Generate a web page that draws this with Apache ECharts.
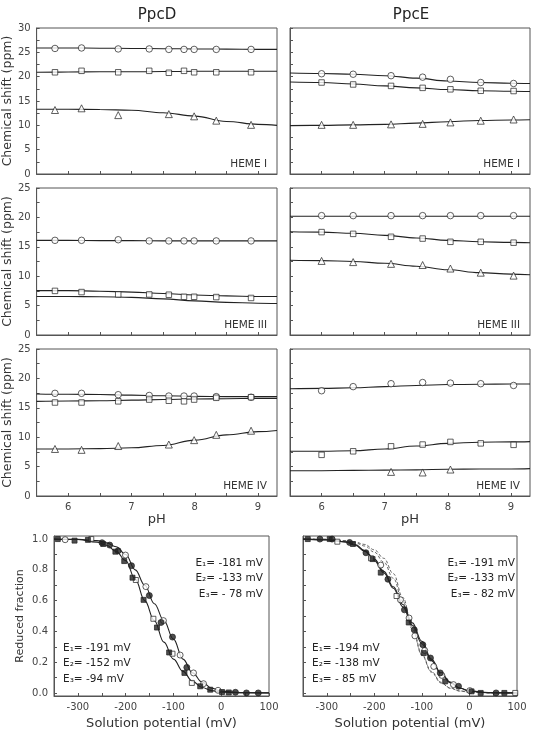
<!DOCTYPE html>
<html>
<head>
<meta charset="utf-8">
<script src="https://cdn.jsdelivr.net/npm/echarts@6/dist/echarts.min.js"></script>
<style>
  html, body { margin: 0; padding: 0; background: #fff; }
  #chart { width: 534px; height: 732px; }
</style>
</head>
<body>
<div id="chart"></div>
<script>
// pH values of the titration points
const phD = [5.79, 6.21, 6.79, 7.28, 7.59, 7.83, 7.99, 8.34, 8.89];
const phE = [6.0, 6.5, 7.1, 7.6, 8.04, 8.52, 9.04];
const fitPH = [5.5, 6.0, 6.5, 7.0, 7.5, 8.0, 8.5, 9.0, 9.3];

// PpcD
const dH1Circ = [25.8, 25.9, 25.7, 25.7, 25.6, 25.6, 25.6, 25.6, 25.6];
const dH1Sq = [20.9, 21.2, 20.9, 21.2, 20.8, 21.2, 20.9, 20.9, 20.9];
const dH1Tri = [13.15, 13.5, 12.1, null, 12.3, null, 11.85, 10.96, 10.1];
const dH1Fits = [
  [25.9, 25.9, 25.85, 25.8, 25.75, 25.7, 25.65, 25.6, 25.6],
  [20.9, 20.95, 21.0, 21.0, 21.05, 21.1, 21.1, 21.1, 21.1],
  [13.3, 13.3, 13.25, 13.1, 12.6, 11.9, 10.8, 10.2, 10.0]
];
const dH3Circ = [16.1, 16.1, 16.2, 16.0, 16.0, 16.0, 16.0, 16.0, 16.0];
const dH3Sq = [7.5, 7.3, 6.9, 6.9, 6.85, 6.5, 6.5, 6.45, 6.3];
const dH3Tri = [];
const dH3Fits = [
  [16.1, 16.1, 16.05, 16.05, 16.0, 16.0, 16.0, 16.0, 16.0],
  [7.55, 7.55, 7.45, 7.3, 7.05, 6.8, 6.65, 6.55, 6.55],
  [6.55, 6.55, 6.5, 6.4, 6.15, 5.8, 5.55, 5.4, 5.35]
];
const dH4Circ = [17.46, 17.46, 17.23, 17.1, 17.0, 17.0, 17.0, 16.9, 16.8];
const dH4Sq = [15.9, 15.9, 16.1, 16.4, 16.2, 16.1, 16.4, 16.7, 16.8];
const dH4Tri = [8.0, 7.85, 8.5, null, 8.75, null, 9.5, 10.4, 11.1];
const dH4Fits = [
  [17.35, 17.3, 17.25, 17.15, 17.05, 16.95, 16.9, 16.9, 16.9],
  [16.1, 16.15, 16.2, 16.3, 16.4, 16.5, 16.55, 16.6, 16.6],
  [8.0, 8.0, 8.05, 8.2, 8.6, 9.5, 10.4, 10.95, 11.15]
];

// PpcE
const eH1Circ = [20.6, 20.5, 20.2, 19.9, 19.45, 18.8, 18.6];
const eH1Sq = [18.8, 18.4, 18.1, 17.7, 17.4, 17.1, 17.05];
const eH1Tri = [10.1, 10.1, 10.2, 10.3, 10.6, 10.95, 11.2];
const eH1Fits = [
  [20.75, 20.65, 20.5, 20.2, 19.7, 19.1, 18.8, 18.65, 18.6],
  [18.9, 18.8, 18.5, 18.1, 17.7, 17.35, 17.1, 17.0, 16.95],
  [9.95, 10.0, 10.1, 10.2, 10.45, 10.75, 11.0, 11.1, 11.15]
];
const eH3Circ = [20.3, 20.3, 20.3, 20.3, 20.3, 20.3, 20.3];
const eH3Sq = [17.5, 17.2, 16.7, 16.4, 15.85, 15.85, 15.7];
const eH3Tri = [12.6, 12.4, 12.1, 11.9, 11.3, 10.6, 10.1];
const eH3Fits = [
  [20.2, 20.2, 20.2, 20.2, 20.2, 20.2, 20.2, 20.2, 20.2],
  [17.55, 17.5, 17.3, 16.95, 16.5, 16.1, 15.85, 15.75, 15.7],
  [12.7, 12.65, 12.5, 12.2, 11.7, 11.1, 10.6, 10.35, 10.25]
];
const eH4Circ = [17.9, 18.6, 19.1, 19.3, 19.2, 19.1, 18.8];
const eH4Sq = [7.0, 7.6, 8.45, 8.75, 9.2, 8.95, 8.7];
const eH4Tri = [null, null, 4.1, 4.0, 4.5, null, null];
const eH4Fits = [
  [18.25, 18.3, 18.4, 18.6, 18.8, 18.95, 19.0, 19.05, 19.05],
  [7.6, 7.6, 7.7, 8.0, 8.5, 8.95, 9.15, 9.2, 9.25],
  [4.3, 4.3, 4.35, 4.4, 4.45, 4.55, 4.6, 4.6, 4.65]
];

// tick labels
const phLabels = [6, 7, 8, 9];
const phTicks = [6, 6.5, 7, 7.5, 8, 8.5, 9];
const mvLabels = [-300, -200, -100, 0, 100];
const mvTicks = [-300, -250, -200, -150, -100, -50, 0, 50, 100];
const fracLabels = [0, 0.2, 0.4, 0.6, 0.8, 1.0];
const fracTicks = [0, 0.1, 0.2, 0.3, 0.4, 0.5, 0.6, 0.7, 0.8, 0.9, 1.0];

// redox titrations [mV, reduced fraction]
const dFilledCirc = [[-249.5, 0.976], [-233.5, 0.961], [-215.8, 0.924], [-187.8, 0.827], [-150.5, 0.633], [-126, 0.458], [-102, 0.363], [-72, 0.166], [29.7, 0.004], [52.8, 0.0], [77.5, 0.0]];
const dOpenCirc = [[-326.7, 0.996], [-200.4, 0.896], [-157.7, 0.691], [-121, 0.47], [-86, 0.246], [-58, 0.13], [-37, 0.06], [-6.7, 0.017]];
const dFilledSq = [[-342, 1.0], [-307, 0.99], [-279, 0.995], [-247, 0.968], [-221.5, 0.918], [-203, 0.857], [-185.7, 0.749], [-162.5, 0.605], [-134.5, 0.425], [-109, 0.263], [-77, 0.13], [-44, 0.043], [-23, 0.021], [1.7, 0.006], [15.8, 0.003]];
const dOpenSq = [[-272, 1.0], [-178.7, 0.734], [-142, 0.482], [-102, 0.255], [-61.5, 0.065], [101, 0.0]];

const eFilledCirc = [[-314.5, 1.0], [-288.8, 1.0], [-252, 0.978], [-217.6, 0.911], [-171.4, 0.739], [-136.7, 0.54], [-116, 0.41], [-98, 0.313], [-82, 0.227], [-61.4, 0.13], [-23, 0.043], [56, 0.0]];
const eOpenCirc = [[-186.5, 0.831], [-145, 0.605], [-127, 0.487], [-114.7, 0.371], [-94, 0.276], [-75, 0.172], [-58, 0.114], [-33.6, 0.054], [0.8, 0.015]];
const eFilledSq = [[-340, 1.0], [-293.8, 1.0], [-245, 0.968], [-203.7, 0.87], [-186.5, 0.782], [-127.7, 0.458], [-96, 0.259], [-51, 0.075], [4.4, 0.01], [23.6, 0.0], [73.4, 0.0]];
const eOpenSq = [[-277.8, 0.983], [-207, 0.875], [-153.3, 0.63], [96.3, 0.0]];

// fitted curves
const redoxX = [-350, -300, -260, -240, -220, -200, -180, -160, -140, -120, -100, -80, -60, -40, -20, 0, 40, 100];
const dFitA = [1.0, 0.997, 0.98, 0.96, 0.92, 0.86, 0.74, 0.6, 0.47, 0.33, 0.22, 0.14, 0.075, 0.035, 0.015, 0.005, 0.001, 0];
const dFitB = [1.0, 0.998, 0.99, 0.975, 0.95, 0.9, 0.8, 0.7, 0.58, 0.47, 0.35, 0.22, 0.13, 0.07, 0.03, 0.012, 0.002, 0];
const eFitA = [1.0, 0.995, 0.98, 0.96, 0.92, 0.86, 0.78, 0.68, 0.56, 0.44, 0.32, 0.21, 0.125, 0.065, 0.03, 0.012, 0.002, 0];
const eFitB = [1.0, 0.996, 0.983, 0.965, 0.925, 0.87, 0.79, 0.69, 0.575, 0.455, 0.335, 0.22, 0.13, 0.07, 0.032, 0.013, 0.002, 0];
const eDashA = [1.0, 0.999, 0.99, 0.98, 0.965, 0.93, 0.875, 0.775, 0.62, 0.43, 0.25, 0.14, 0.07, 0.032, 0.013, 0.005, 0.001, 0];
const eDashB = [1.0, 0.998, 0.988, 0.975, 0.955, 0.915, 0.85, 0.745, 0.595, 0.415, 0.245, 0.135, 0.065, 0.03, 0.012, 0.005, 0.001, 0];

const FONT = 'DejaVu Sans';
const INK = '#222';
const AXIS = '#555';
const LABEL = '#444';

const zip = (xs, ys) => xs.map((x, i) => [x, ys[i]]).filter(p => p[1] != null);

const cols = [{ left: 36, width: 241 }, { left: 290, width: 240 }];
const rows = [
  { top: 28, height: 146, max: 30 },
  { top: 188, height: 147, max: 25 },
  { top: 349, height: 147, max: 25 }
];
const panels = [
  { x: phD, circ: dH1Circ, sq: dH1Sq, tri: dH1Tri, fits: dH1Fits, label: 'HEME I' },
  { x: phE, circ: eH1Circ, sq: eH1Sq, tri: eH1Tri, fits: eH1Fits, label: 'HEME I' },
  { x: phD, circ: dH3Circ, sq: dH3Sq, tri: dH3Tri, fits: dH3Fits, label: 'HEME III' },
  { x: phE, circ: eH3Circ, sq: eH3Sq, tri: eH3Tri, fits: eH3Fits, label: 'HEME III' },
  { x: phD, circ: dH4Circ, sq: dH4Sq, tri: dH4Tri, fits: dH4Fits, label: 'HEME IV' },
  { x: phE, circ: eH4Circ, sq: eH4Sq, tri: eH4Tri, fits: eH4Fits, label: 'HEME IV' }
];

const grid = [], xAxis = [], yAxis = [], series = [], graphic = [];

const lineStyle = { show: true, onZero: false, lineStyle: { color: AXIS } };
const tickStyle = { inside: true, length: 3, lineStyle: { color: AXIS } };
const labelStyle = { color: LABEL, fontFamily: FONT, fontSize: 10 };

panels.forEach((p, i) => {
  const col = cols[i % 2], row = rows[Math.floor(i / 2)];
  const isLeft = i % 2 === 0, isBottom = i >= 4;
  grid.push({ left: col.left, width: col.width, top: row.top, height: row.height, show: true, borderColor: AXIS, borderWidth: 1 });
  const yTicks = [];
  for (let v = 0; v <= row.max; v += 2.5) yTicks.push(v);
  xAxis.push({
    type: 'value', gridIndex: i, min: 5.5, max: 9.3,
    axisLine: lineStyle,
    axisTick: Object.assign({ customValues: phTicks }, tickStyle),
    axisLabel: Object.assign({ show: isBottom, customValues: phLabels, margin: 6 }, labelStyle),
    splitLine: { show: false },
    name: isBottom ? 'pH' : '', nameLocation: 'middle', nameGap: 15,
    nameTextStyle: { color: '#333', fontFamily: FONT, fontSize: 13 }
  });
  yAxis.push({
    type: 'value', gridIndex: i, min: 0, max: row.max, interval: 5,
    axisLine: lineStyle,
    axisTick: Object.assign({ customValues: yTicks }, tickStyle),
    axisLabel: Object.assign({ show: isLeft, margin: 6 }, labelStyle),
    splitLine: { show: false },
    name: isLeft ? 'Chemical shift (ppm)' : '', nameLocation: 'middle', nameGap: 19,
    nameTextStyle: { color: '#333', fontFamily: FONT, fontSize: 12.5 }
  });
  p.fits.forEach(f => {
    series.push({
      type: 'line', xAxisIndex: i, yAxisIndex: i, data: zip(fitPH, f),
      symbol: 'none', smooth: 0.4, smoothMonotone: 'x', silent: true, z: 2,
      lineStyle: { color: INK, width: 1.1 }
    });
  });
  [['circle', p.circ, 6.5], ['rect', p.sq, 5.5], ['triangle', p.tri, 7]].forEach(([sym, vals, size]) => {
    series.push({
      type: 'scatter', xAxisIndex: i, yAxisIndex: i, data: zip(p.x, vals),
      symbol: sym, symbolSize: size, z: 3,
      itemStyle: { color: '#fff', borderColor: INK, borderWidth: 0.9 }
    });
  });
  graphic.push({
    type: 'text', x: col.left + col.width - 10, y: row.top + row.height - 10,
    style: { text: p.label, fill: '#333', fontFamily: FONT, fontSize: 10.5, align: 'right', verticalAlign: 'middle' }
  });
});

// redox panels
const redox = [
  { left: 54, width: 215, highX: 263, fc: dFilledCirc, oc: dOpenCirc, fs: dFilledSq, os: dOpenSq, fits: [dFitA, dFitB], dashes: [],
    low: ['E\u2081= -191 mV', 'E\u2082= -152 mV', 'E\u2083= -94 mV'], high: ['E\u2081= -181 mV', 'E\u2082= -133 mV', 'E\u2083= - 78 mV'] },
  { left: 303, width: 214, highX: 515, fc: eFilledCirc, oc: eOpenCirc, fs: eFilledSq, os: eOpenSq, fits: [eFitA, eFitB], dashes: [eDashA, eDashB],
    low: ['E\u2081= -194 mV', 'E\u2082= -138 mV', 'E\u2083= - 85 mV'], high: ['E\u2081= -191 mV', 'E\u2082= -133 mV', 'E\u2083= - 82 mV'] }
];
redox.forEach((r, k) => {
  const i = 6 + k;
  grid.push({ left: r.left, width: r.width, top: 536, height: 160, show: true, borderColor: AXIS, borderWidth: 1 });
  xAxis.push({
    type: 'value', gridIndex: i, min: -350, max: 100,
    axisLine: lineStyle,
    axisTick: Object.assign({ customValues: mvTicks }, tickStyle),
    axisLabel: Object.assign({ customValues: mvLabels, margin: 6 }, labelStyle),
    splitLine: { show: false },
    name: 'Solution potential (mV)', nameLocation: 'middle', nameGap: 21,
    nameTextStyle: { color: '#333', fontFamily: FONT, fontSize: 13 }
  });
  yAxis.push({
    type: 'value', gridIndex: i, min: -0.02, max: 1.02,
    axisLine: lineStyle,
    axisTick: Object.assign({ customValues: fracTicks }, tickStyle),
    axisLabel: Object.assign({ show: k === 0, customValues: fracLabels, margin: 6, formatter: v => Number(v).toFixed(1) }, labelStyle),
    splitLine: { show: false },
    name: k === 0 ? 'Reduced fraction' : '', nameLocation: 'middle', nameGap: 28,
    nameTextStyle: { color: '#333', fontFamily: FONT, fontSize: 11 }
  });
  r.dashes.forEach(d => {
    series.push({
      type: 'line', xAxisIndex: i, yAxisIndex: i, data: zip(redoxX, d),
      symbol: 'none', smooth: 0.4, smoothMonotone: 'x', silent: true, z: 2,
      lineStyle: { color: '#555', width: 0.9, type: [3, 2] }
    });
  });
  r.fits.forEach(f => {
    series.push({
      type: 'line', xAxisIndex: i, yAxisIndex: i, data: zip(redoxX, f),
      symbol: 'none', smooth: 0.4, smoothMonotone: 'x', silent: true, z: 2,
      lineStyle: { color: INK, width: 1.1 }
    });
  });
  [['circle', r.oc, 6, '#fff'], ['rect', r.os, 5, '#fff'], ['circle', r.fc, 6, INK], ['rect', r.fs, 5, INK]].forEach(([sym, data, size, fill]) => {
    series.push({
      type: 'scatter', xAxisIndex: i, yAxisIndex: i, data,
      symbol: sym, symbolSize: size, z: 3,
      itemStyle: { color: fill, borderColor: INK, borderWidth: 0.9 }
    });
  });
  r.low.forEach((t, j) => {
    graphic.push({ type: 'text', x: r.left + 9, y: 648 + j * 15.5,
      style: { text: t, fill: '#222', fontFamily: FONT, fontSize: 10.5, align: 'left', verticalAlign: 'middle' } });
  });
  r.high.forEach((t, j) => {
    graphic.push({ type: 'text', x: r.highX, y: 563 + j * 15.5,
      style: { text: t, fill: '#222', fontFamily: FONT, fontSize: 10.5, align: 'right', verticalAlign: 'middle' } });
  });
});

graphic.push({ type: 'text', x: 157, y: 15, style: { text: 'PpcD', fill: '#222', fontFamily: FONT, fontSize: 15, align: 'center', verticalAlign: 'middle' } });
graphic.push({ type: 'text', x: 411, y: 15, style: { text: 'PpcE', fill: '#222', fontFamily: FONT, fontSize: 15, align: 'center', verticalAlign: 'middle' } });

const chart = echarts.init(document.getElementById('chart'));
chart.setOption({
  backgroundColor: '#fff',
  animation: false,
  grid, xAxis, yAxis, series, graphic
});
</script>
</body>
</html>
